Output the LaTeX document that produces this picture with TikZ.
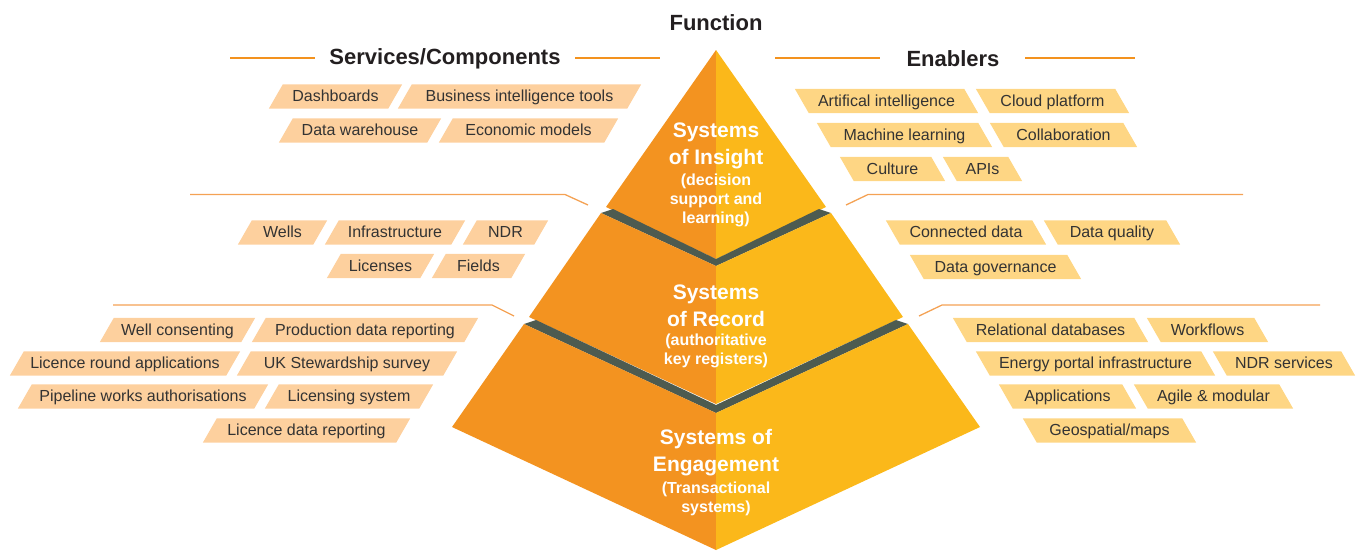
\documentclass[tikz,border=0pt]{standalone}
\usepackage{fontspec}
\setmainfont{Liberation Sans}
\usetikzlibrary{backgrounds}
\definecolor{pyrL}{RGB}{243,147,32}
\definecolor{pyrR}{RGB}{251,184,26}
\definecolor{tagLc}{RGB}{253,208,158}
\definecolor{tagRc}{RGB}{254,214,132}
\definecolor{bandc}{RGB}{77,91,80}
\definecolor{hline}{RGB}{243,146,30}
\definecolor{lline}{RGB}{244,162,84}
\definecolor{ink}{RGB}{35,31,32}
\definecolor{tagink}{RGB}{51,51,51}
\newcommand\mktagL[5]{%
  \node[tagbox, minimum width=#4pt] (#1) at (#2,#3) {#5};
  \begin{pgfonlayer}{background}
    \fill[tagLc] ([xshift=-7pt]#1.south west) -- ([xshift=7pt]#1.north west) -- ([xshift=7pt]#1.north east) -- ([xshift=-7pt]#1.south east) -- cycle;
  \end{pgfonlayer}}
\newcommand\mktagR[5]{%
  \node[tagbox, minimum width=#4pt] (#1) at (#2,#3) {#5};
  \begin{pgfonlayer}{background}
    \fill[tagRc] ([xshift=7pt]#1.south west) -- ([xshift=-7pt]#1.north west) -- ([xshift=-7pt]#1.north east) -- ([xshift=7pt]#1.south east) -- cycle;
  \end{pgfonlayer}}
\begin{document}
\begin{tikzpicture}[x=1pt,y=-1pt,
  title/.style={font=\fontsize{22}{26}\selectfont\bfseries, text=ink, inner sep=0pt},
  tagbox/.style={font=\fontsize{16}{19}\selectfont, text=tagink, inner sep=0pt, minimum height=24pt, text height=13.5pt, text depth=3.5pt},
  layerT/.style={font=\fontsize{21}{27}\selectfont\bfseries, text=white, align=center, inner sep=0pt},
  layerS/.style={font=\fontsize{16}{19}\selectfont\bfseries, text=white, align=center, inner sep=0pt},
  hrule/.style={draw=hline, line width=2pt},
  leader/.style={draw=lline, line width=1.3pt},
]
\useasboundingbox (0,0) rectangle (1362,550);

% ---------- pyramid ----------
% Insight
\fill[pyrL] (716,50) -- (606,207) -- (716,259) -- cycle;
\fill[pyrR] (716,50) -- (826,207) -- (716,259) -- cycle;
% band 1
\fill[bandc] (601,213) -- (716,266) -- (831,213) -- (819,209) -- (716,259) -- (613,209) -- cycle;
% Record
\fill[pyrL] (716,266) -- (601,213) -- (529,317) -- (716,404) -- cycle;
\fill[pyrR] (716,266) -- (831,213) -- (903,317) -- (716,404) -- cycle;
% band 2
\fill[bandc] (524,324) -- (716,413) -- (908,324) -- (896,320) -- (716,405) -- (536,320) -- cycle;
% Engagement
\fill[pyrL] (716,413) -- (524,324) -- (452,427) -- (716,550) -- cycle;
\fill[pyrR] (716,413) -- (908,324) -- (980,427) -- (716,550) -- cycle;

\node[layerT] (insT) at (716,146) {Systems\\of Insight};
\node[layerS] (insS) at (716,200) {(decision\\support and\\learning)};
\node[layerT] (recT) at (716,305.5) {Systems\\of Record};
\node[layerS] (recS) at (716,350.5) {(authoritative\\key registers)};
\node[layerT] (engT) at (716,452.5) {Systems of\\Engagement};
\node[layerS] (engS) at (716,498.5) {(Transactional\\systems)};

% ---------- titles ----------
\node[title] (fn) at (716,23) {Function};
\node[title] (svc) at (445,59) {Services/Components};
\node[title] (enb) at (953,59) {Enablers};
\coordinate (h1a) at (230,58); \coordinate (h1b) at (315,58);
\coordinate (h2a) at (575,58); \coordinate (h2b) at (660,58);
\coordinate (h3a) at (775,58); \coordinate (h3b) at (880,58);
\coordinate (h4a) at (1025,58); \coordinate (h4b) at (1135,58);
\draw[hrule] (h1a) -- (h1b);
\draw[hrule] (h2a) -- (h2b);
\draw[hrule] (h3a) -- (h3b);
\draw[hrule] (h4a) -- (h4b);

% ---------- leader lines ----------
\coordinate (la1) at (190,194.5); \coordinate (la2) at (565,194.5); \coordinate (la3) at (588,205);
\coordinate (ra1) at (1243,194.5); \coordinate (ra2) at (868,194.5); \coordinate (ra3) at (846,205);
\coordinate (lb1) at (113,305); \coordinate (lb2) at (492,305); \coordinate (lb3) at (514,316);
\coordinate (rb1) at (1320,305); \coordinate (rb2) at (942,305); \coordinate (rb3) at (919,316);
\draw[leader] (la1) -- (la2) -- (la3);
\draw[leader] (ra1) -- (ra2) -- (ra3);
\draw[leader] (lb1) -- (lb2) -- (lb3);
\draw[leader] (rb1) -- (rb2) -- (rb3);

% ---------- left tags ----------
\mktagL{dash}{335.5}{96.5}{119}{Dashboards}
\mktagL{bit}{519.5}{96.5}{229}{Business intelligence tools}
\mktagL{dw}{360}{130.5}{148}{Data warehouse}
\mktagL{em}{528.5}{130.5}{165}{Economic models}
\mktagL{wells}{282.5}{232.5}{75}{Wells}
\mktagL{infra}{395}{232.5}{126}{Infrastructure}
\mktagL{ndr}{505.5}{232.5}{71}{NDR}
\mktagL{lic}{380.5}{266}{93}{Licenses}
\mktagL{fields}{478.5}{266}{79}{Fields}
\mktagL{wc}{177.5}{330}{141}{Well consenting}
\mktagL{pdr}{365}{330}{212}{Production data reporting}
\mktagL{lra}{125}{363.5}{216}{Licence round applications}
\mktagL{uks}{347}{363.5}{206}{UK Stewardship survey}
\mktagL{pwa}{143}{396.5}{236}{Pipeline works authorisations}
\mktagL{ls}{349}{396.5}{154}{Licensing system}
\mktagL{ldr}{306.5}{430.5}{193}{Licence data reporting}

% ---------- right tags ----------
\mktagR{ai}{886.5}{101}{169}{Artifical intelligence}
\mktagR{cp}{1052.5}{101}{139}{Cloud platform}
\mktagR{ml}{904.5}{135}{161}{Machine learning}
\mktagR{col}{1063.5}{135}{133}{Collaboration}
\mktagR{cul}{892.5}{169}{91}{Culture}
\mktagR{api}{982.5}{169}{65}{APIs}
\mktagR{cd}{966}{232.5}{146}{Connected data}
\mktagR{dq}{1112}{232.5}{122}{Data quality}
\mktagR{dg}{995.5}{267}{157}{Data governance}
\mktagR{rd}{1050.5}{330}{181}{Relational databases}
\mktagR{wf}{1207.5}{330}{107}{Workflows}
\mktagR{epi}{1095.5}{363.5}{225}{Energy portal infrastructure}
\mktagR{ndrs}{1284}{363.5}{128}{NDR services}
\mktagR{app}{1067.5}{396.5}{123}{Applications}
\mktagR{agm}{1213.5}{396.5}{145}{Agile \& modular}
\mktagR{geo}{1109.5}{430.5}{159}{Geospatial/maps}
\end{tikzpicture}
\end{document}
